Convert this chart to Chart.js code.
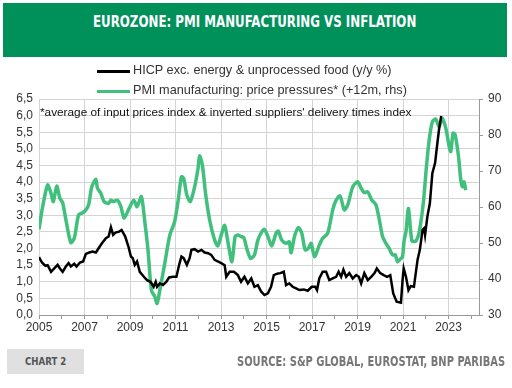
<!DOCTYPE html>
<html>
<head>
<meta charset="utf-8">
<script src="https://cdn.jsdelivr.net/npm/chart.js@4.4.0/dist/chart.umd.min.js"></script>
<style>
  html, body { margin: 0; padding: 0; background: #fff; }
  body { width: 512px; height: 388px; position: relative; overflow: hidden; font-family: "Liberation Sans", Arial, sans-serif; }
  #band { position: absolute; left: 3px; top: 3px; width: 504px; height: 54px; background: #00905a; }
  .fit { position: absolute; white-space: nowrap; transform-origin: 0 0; }
  #title { left: 93px; top: 12px; color: #fff; font-family: "DejaVu Sans Condensed", "DejaVu Sans", sans-serif; font-weight: bold; font-size: 16px; }
  #chart { position: absolute; left: 0; top: 0; }
  .leg { position: absolute; left: 97px; height: 16px; font-size: 12.7px; color: #333; white-space: nowrap; }
  .leg span.sw { position: absolute; left: 0; top: 7px; width: 33px; height: 3px; }
  .leg span.tx { position: absolute; left: 36px; top: 0; }
  #note { position: absolute; left: 40px; top: 105px; font-size: 11.8px; color: #111; white-space: nowrap; }
  #tag { position: absolute; left: 7px; top: 349px; width: 77px; height: 25px; background: #e0e0e0; }
  #tagtx { left: 25px; top: 355px; color: #555; font-family: "DejaVu Sans Condensed", sans-serif; font-weight: bold; font-size: 11px; }
  #source { left: 237px; top: 353px; color: #777; font-family: "DejaVu Sans Condensed", sans-serif; font-weight: bold; font-size: 13.5px; }
</style>
</head>
<body>
<div id="band"></div>
<div id="title" class="fit" data-w="323">EUROZONE: PMI MANUFACTURING VS INFLATION</div>
<canvas id="chart" width="512" height="388"></canvas>
<div class="leg" style="top:63px"><span class="sw" style="background:#000"></span><span class="tx">HICP exc. energy &amp; unprocessed food (y/y %)</span></div>
<div class="leg" style="top:83px"><span class="sw" style="background:#40c07c"></span><span class="tx">PMI manufacturing: price pressures* (+12m, rhs)</span></div>
<div id="note">*average of input prices index &amp; inverted suppliers' delivery times index</div>
<div id="tag"></div>
<div id="tagtx" class="fit" data-w="41">CHART 2</div>
<div id="source" class="fit" data-w="268">SOURCE: S&amp;P GLOBAL, EUROSTAT, BNP PARIBAS</div>
<script>
// squeeze condensed headings to the reference widths
document.querySelectorAll('.fit').forEach(el => {
  el.style.transform = 'scaleX(' + (Number(el.dataset.w) / el.offsetWidth) + ')';
});

// HICP exc. energy & unprocessed food, y/y % (left axis)
const hicpDates = [
  2005.00, 2005.13, 2005.28, 2005.38, 2005.53, 2005.67, 2005.82, 2005.92, 2006.04, 2006.18,
  2006.30, 2006.40, 2006.55, 2006.65, 2006.80, 2006.94, 2007.06, 2007.21, 2007.35, 2007.50,
  2007.65, 2007.79, 2007.94, 2008.06, 2008.16, 2008.26, 2008.36, 2008.52, 2008.63, 2008.79,
  2008.93, 2009.04, 2009.12, 2009.21, 2009.31, 2009.43, 2009.61, 2009.75, 2009.90, 2010.04,
  2010.13, 2010.19, 2010.31, 2010.45, 2010.60, 2010.72, 2010.89, 2011.04, 2011.16, 2011.26,
  2011.36, 2011.50, 2011.62, 2011.70, 2011.84, 2011.99, 2012.14, 2012.28, 2012.43, 2012.57,
  2012.72, 2012.86, 2013.01, 2013.16, 2013.23, 2013.38, 2013.57, 2013.74, 2013.88, 2014.03,
  2014.18, 2014.33, 2014.47, 2014.62, 2014.77, 2014.91, 2015.06, 2015.20, 2015.32, 2015.50,
  2015.61, 2015.76, 2015.86, 2016.00, 2016.15, 2016.30, 2016.45, 2016.64, 2016.81, 2016.99,
  2017.14, 2017.22, 2017.32, 2017.47, 2017.62, 2017.76, 2017.91, 2018.06, 2018.17, 2018.28,
  2018.38, 2018.50, 2018.64, 2018.79, 2018.94, 2019.06, 2019.16, 2019.30, 2019.45, 2019.60,
  2019.75, 2019.85, 2020.00, 2020.15, 2020.30, 2020.44, 2020.57, 2020.72, 2020.91, 2020.98,
  2021.03, 2021.13, 2021.24, 2021.34, 2021.48, 2021.56, 2021.64, 2021.74, 2021.86, 2021.93,
  2021.97, 2022.07, 2022.18, 2022.29, 2022.41, 2022.51, 2022.59, 2022.68
];
const hicpValues = [
  1.74, 1.58, 1.48, 1.50, 1.30, 1.40, 1.51, 1.40, 1.30, 1.46,
  1.56, 1.46, 1.54, 1.46, 1.58, 1.61, 1.84, 1.88, 1.91, 1.88,
  2.04, 2.18, 2.31, 2.36, 2.64, 2.41, 2.48, 2.51, 2.56, 2.36,
  2.06, 1.76, 1.71, 1.51, 1.61, 1.30, 1.15, 1.05, 1.00, 0.85,
  1.00, 0.85, 0.95, 0.90, 1.00, 1.13, 1.15, 1.15, 1.51, 1.76,
  1.71, 1.51, 1.71, 1.96, 1.98, 1.91, 1.96, 1.88, 1.86, 1.81,
  1.66, 1.61, 1.56, 1.50, 1.15, 1.30, 1.30, 1.20, 1.00, 1.15,
  0.95, 1.10, 0.85, 0.90, 0.70, 0.60, 0.65, 0.85, 1.20, 1.25,
  1.26, 1.30, 0.90, 0.95, 0.85, 0.80, 0.75, 0.77, 0.73, 0.85,
  0.85, 0.75, 1.10, 1.30, 1.30, 1.05, 1.10, 1.15, 1.30, 1.15,
  1.36, 1.15, 1.26, 1.10, 1.20, 1.15, 0.95, 1.26, 1.05, 1.15,
  1.26, 1.40, 1.26, 1.20, 1.15, 1.20, 0.65, 0.40, 0.37, 1.05,
  1.40, 1.15, 0.75, 0.87, 0.85, 1.26, 1.66, 1.96, 2.56, 2.61,
  2.41, 2.96, 3.36, 4.27, 4.57, 5.17, 5.62, 5.99
];

// PMI manufacturing price pressures, shifted +12m (right axis)
const pmiDates = [
  2005.00, 2005.16, 2005.38, 2005.53, 2005.63, 2005.78, 2005.92, 2006.04, 2006.21, 2006.40,
  2006.55, 2006.74, 2006.92, 2007.06, 2007.18, 2007.32, 2007.50, 2007.57, 2007.72, 2007.86,
  2008.06, 2008.16, 2008.26, 2008.45, 2008.60, 2008.74, 2008.96, 2009.17, 2009.31, 2009.50,
  2009.65, 2009.79, 2009.94, 2010.09, 2010.19, 2010.34, 2010.53, 2010.75, 2010.96, 2011.11,
  2011.26, 2011.36, 2011.50, 2011.65, 2011.84, 2011.99, 2012.06, 2012.18, 2012.32, 2012.50,
  2012.72, 2012.86, 2013.01, 2013.16, 2013.30, 2013.48, 2013.62, 2013.74, 2013.88, 2014.00,
  2014.15, 2014.30, 2014.47, 2014.62, 2014.79, 2014.91, 2015.06, 2015.23, 2015.42, 2015.52,
  2015.67, 2015.86, 2016.00, 2016.08, 2016.23, 2016.40, 2016.55, 2016.70, 2016.84, 2016.96,
  2017.11, 2017.32, 2017.47, 2017.69, 2017.91, 2018.06, 2018.23, 2018.42, 2018.57, 2018.79,
  2019.01, 2019.16, 2019.30, 2019.45, 2019.63, 2019.81, 2019.96, 2020.10, 2020.25, 2020.39,
  2020.54, 2020.66, 2020.76, 2020.91, 2020.98, 2021.05, 2021.13, 2021.24, 2021.39, 2021.56,
  2021.71, 2021.89, 2022.03, 2022.15, 2022.29, 2022.44, 2022.59, 2022.73, 2022.88, 2023.03,
  2023.10, 2023.20, 2023.29, 2023.44, 2023.54, 2023.61, 2023.68, 2023.76
];
const pmiValues = [
  53.8, 60.1, 66.1, 63.8, 61.5, 65.8, 62.4, 61.2, 55.5, 50.1,
  51.3, 57.8, 58.4, 59.2, 60.6, 65.6, 67.7, 65.2, 63.8, 61.5,
  61.0, 61.9, 61.5, 61.9, 60.1, 56.9, 59.6, 61.9, 60.1, 62.9,
  55.9, 48.1, 36.9, 35.1, 33.2, 37.9, 44.4, 52.2, 55.9, 61.5,
  68.4, 67.9, 63.3, 61.5, 65.6, 70.7, 74.2, 71.7, 63.8, 56.4,
  50.8, 49.2, 52.2, 54.9, 50.4, 44.8, 51.8, 52.2, 51.8, 51.5,
  48.1, 45.7, 46.7, 50.8, 53.1, 53.8, 51.8, 49.2, 52.7, 53.3,
  50.8, 49.9, 50.3, 47.3, 51.8, 54.3, 52.7, 48.1, 48.5, 49.9,
  46.2, 49.4, 51.3, 52.7, 59.2, 61.9, 63.1, 59.2, 60.6, 65.6,
  67.0, 65.2, 64.0, 64.2, 61.9, 60.6, 56.4, 51.8, 49.9, 48.5,
  46.7, 46.7, 44.8, 45.7, 46.2, 50.8, 53.1, 59.6, 50.6, 50.5,
  53.0, 61.0, 71.2, 78.6, 83.7, 84.4, 82.3, 84.6, 81.9, 76.8,
  75.4, 80.5, 80.1, 74.0, 67.5, 65.6, 67.0, 64.7
];

const xMin = 2005, xMax = 2024.34;
const yearTicks = [];
for (let y = 2005; y <= 2024; y++) yearTicks.push(y);
const leftTicks = [0, 0.5, 1, 1.5, 2, 2.5, 3, 3.5, 4, 4.5, 5, 5.5, 6, 6.5];
const rightTicks = [30, 40, 50, 60, 70, 80, 90];

const tickFont = { family: "Liberation Sans, Arial, sans-serif", size: 12 };

new Chart(document.getElementById('chart').getContext('2d'), {
  type: 'line',
  data: {
    datasets: [
      {
        label: 'HICP exc. energy & unprocessed food (y/y %)',
        data: hicpDates.map((d, i) => ({ x: d, y: hicpValues[i] })),
        borderColor: '#000',
        borderWidth: 2.5,
        pointRadius: 0,
        tension: 0,
        yAxisID: 'y'
      },
      {
        label: 'PMI manufacturing: price pressures* (+12m, rhs)',
        data: pmiDates.map((d, i) => ({ x: d, y: pmiValues[i] })),
        borderColor: '#40c07c',
        borderWidth: 3.5,
        pointRadius: 0,
        tension: 0.25,
        yAxisID: 'y1'
      }
    ]
  },
  options: {
    responsive: false,
    animation: false,
    layout: { padding: { top: 99, left: 0, right: 0, bottom: 0 } },
    plugins: { legend: { display: false }, tooltip: { enabled: false } },
    scales: {
      x: {
        type: 'linear',
        min: xMin,
        max: xMax,
        afterBuildTicks: s => { s.ticks = yearTicks.map(v => ({ value: v })); },
        afterFit: s => { s.height = 73; },
        border: { color: '#9a9a9a', width: 1 },
        grid: {
          color: c => (c.tick && c.tick.value % 2 === 1) ? '#d4d4d4' : 'rgba(0,0,0,0)',
          tickColor: '#9a9a9a',
          tickLength: 4
        },
        ticks: {
          color: '#333',
          font: tickFont,
          padding: 1,
          maxRotation: 0,
          autoSkip: false,
          callback: v => (v % 2 === 1 ? String(v) : '')
        }
      },
      y: {
        position: 'left',
        min: 0,
        max: 6.5,
        afterBuildTicks: s => { s.ticks = leftTicks.map(v => ({ value: v })); },
        afterFit: s => { s.width = 39; },
        border: { display: false },
        grid: { color: '#d4d4d4', drawTicks: false },
        ticks: {
          color: '#333',
          font: tickFont,
          padding: 6,
          autoSkip: false,
          callback: v => v.toFixed(1).replace('.', ',')
        }
      },
      y1: {
        position: 'right',
        min: 30,
        max: 90,
        afterBuildTicks: s => { s.ticks = rightTicks.map(v => ({ value: v })); },
        afterFit: s => { s.width = 33; },
        border: { color: '#9a9a9a', width: 1 },
        grid: { drawOnChartArea: false, tickColor: '#9a9a9a', tickLength: 4 },
        ticks: { color: '#333', font: tickFont, padding: 5, autoSkip: false }
      }
    }
  }
});
</script>
</body>
</html>
